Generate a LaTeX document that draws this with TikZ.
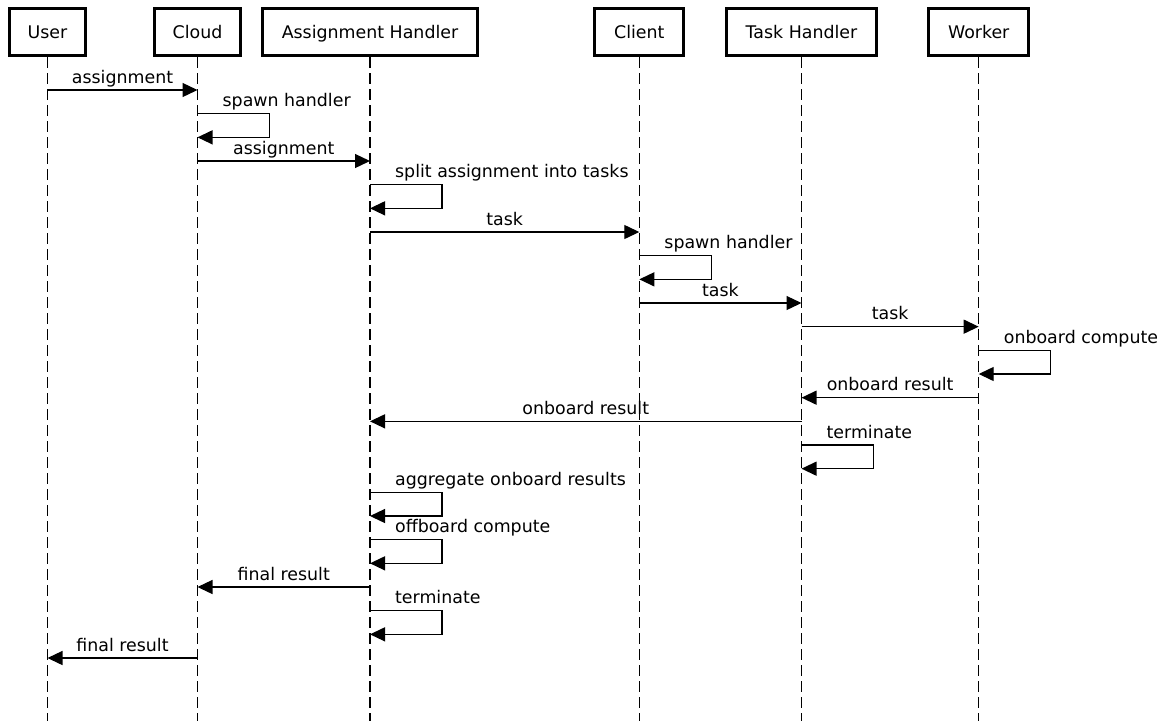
\documentclass[tikz,border=0pt]{standalone}
\usepackage{fontspec}
\setmainfont{DejaVu Sans}
\usetikzlibrary{arrows.meta,calc}
\begin{document}
\begin{tikzpicture}[x=1pt,y=-1pt,
  actor/.style={draw, line width=3pt, minimum height=47pt, inner sep=0pt,
    font=\fontsize{17.4}{20}\selectfont, text height=12.7pt, text depth=0pt},
  lifeline/.style={line width=1.3pt, dash pattern=on 11pt off 5pt},
  msg/.style={line width=1.3pt, -{Triangle[length=15pt,width=14pt]}},
  lbl/.style={font=\fontsize{17.4}{20}\selectfont, inner sep=0pt},
  mlbl/.style={lbl, anchor=base, yshift=7pt},
  slbl/.style={lbl, anchor=base west, xshift=24.5pt, yshift=7pt}]
\useasboundingbox (0,0) rectangle (1160,721);
\fill[white] (0,0) rectangle (1160,721);
% actors
\node[actor, minimum width=76pt]  (user)   at (47.5,32)  {User};
\node[actor, minimum width=86pt]  (cloud)  at (197.5,32) {Cloud};
\node[actor, minimum width=215pt] (ah)     at (370,32)   {Assignment Handler};
\node[actor, minimum width=89pt]  (client) at (639.3,32) {Client};
\node[actor, minimum width=150pt] (th)     at (801.5,32) {Task Handler};
\node[actor, minimum width=100pt] (worker) at (978.7,32) {Worker};
% row coordinates
\coordinate (top) at (0,57);
\coordinate (bot) at (0,721);
\foreach \k in {0,...,24} {\coordinate (r\k) at (0,90+\k*23.667);}
% lifelines
\foreach \a in {user,cloud,ah,client,th,worker} {
  \draw[lifeline] (\a |- top) -- (\a |- bot);
}
% messages
\draw[msg] (user |- r0) -- node[mlbl] {assignment} (cloud |- r0);
\draw[msg] (cloud |- r1) node[slbl] {spawn handler} -- ++(72,0) |- (cloud |- r2);
\draw[msg] (cloud |- r3) -- node[mlbl] {assignment} (ah |- r3);
\draw[msg] (ah |- r4) node[slbl] {split assignment into tasks} -- ++(72,0) |- (ah |- r5);
\draw[msg] (ah |- r6) -- node[mlbl] {task} (client |- r6);
\draw[msg] (client |- r7) node[slbl] {spawn handler} -- ++(72,0) |- (client |- r8);
\draw[msg] (client |- r9) -- node[mlbl] {task} (th |- r9);
\draw[msg] (th |- r10) -- node[mlbl] {task} (worker |- r10);
\draw[msg] (worker |- r11) node[slbl] {onboard compute} -- ++(72,0) |- (worker |- r12);
\draw[msg] (worker |- r13) -- node[mlbl] {onboard result} (th |- r13);
\draw[msg] (th |- r14) -- node[mlbl] {onboard result} (ah |- r14);
\draw[msg] (th |- r15) node[slbl] {terminate} -- ++(72,0) |- (th |- r16);
\draw[msg] (ah |- r17) node[slbl] {aggregate onboard results} -- ++(72,0) |- (ah |- r18);
\draw[msg] (ah |- r19) node[slbl] {offboard compute} -- ++(72,0) |- (ah |- r20);
\draw[msg] (ah |- r21) -- node[mlbl] {final result} (cloud |- r21);
\draw[msg] (ah |- r22) node[slbl] {terminate} -- ++(72,0) |- (ah |- r23);
\draw[msg] (cloud |- r24) -- node[mlbl] {final result} (user |- r24);
\end{tikzpicture}
\end{document}
